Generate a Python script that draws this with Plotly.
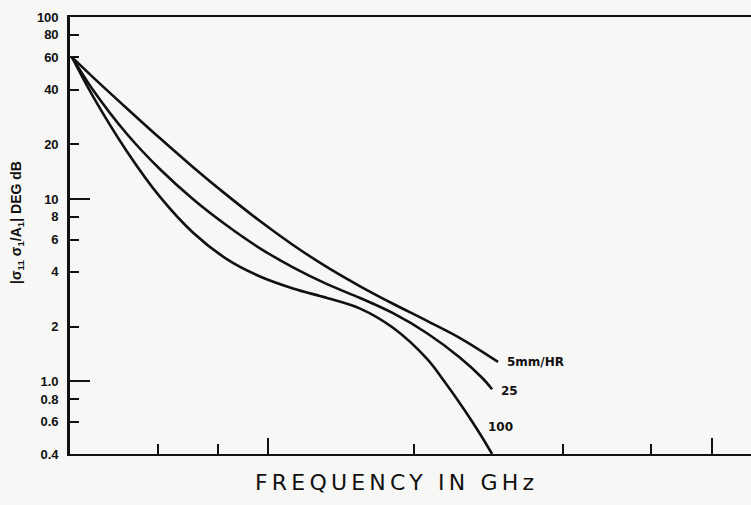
import math
import plotly.graph_objects as go

# Attenuation curves vs frequency for three rain rates
freq_5 = [3.62, 4.03, 4.81, 5.71, 6.78, 8.09, 9.59, 11.38, 13.58, 16.12, 19.12, 22.81, 27.07, 32.96]
att_5 = [60, 46.8, 31.5, 21.6, 15.0, 10.5, 7.59, 5.61, 4.24, 3.33, 2.67, 2.15, 1.73, 1.28]

freq_25 = [3.62, 4.03, 4.81, 5.71, 6.78, 8.09, 9.59, 11.38, 13.58, 16.12, 19.12, 22.81, 27.07, 30.5, 31.96]
att_25 = [60, 39.9, 22.8, 14.6, 10.0, 7.15, 5.38, 4.23, 3.42, 2.87, 2.37, 1.84, 1.35, 1.035, 0.907]

freq_100 = [3.62, 4.03, 4.81, 5.71, 6.78, 8.09, 9.59, 11.38, 13.58, 16.12, 19.12, 22.81, 25.03, 27.79, 30.03, 31.96]
att_100 = [60, 36.8, 18.3, 10.3, 6.55, 4.68, 3.77, 3.24, 2.87, 2.51, 1.97, 1.33, 0.99, 0.689, 0.515, 0.40]

curve_labels = ["5mm/HR", "25", "100"]

y_tickvals = [100, 80, 60, 40, 20, 10, 8, 6, 4, 2, 1.0, 0.8, 0.6, 0.4]
y_ticktext = ["100", "80", "60", "40", "20", "10", "8", "6", "4", "2", "1.0", "0.8", "0.6", "0.4"]
y_long_ticks = [10, 1.0]

x_short_ticks = [5.65, 7.72, 21.3, 46.2, 72.9]
x_tall_ticks = [10, 100]

x_range = [math.log10(3.58), math.log10(122.4)]
y_range = [math.log10(0.4), 2]

INK = "#111111"
PAPER = "#f7f7f5"
LABEL_FONT = "Liberation Sans Narrow, Liberation Sans, Arial"
CURVE_FONT = "DejaVu Sans, Liberation Sans, Arial"

fig = go.Figure()
series = [(freq_5, att_5), (freq_25, att_25), (freq_100, att_100)]
for fx, fy in series:
    fig.add_trace(go.Scatter(
        x=fx, y=fy, mode="lines",
        line=dict(color=INK, width=2.6, shape="spline", smoothing=1.0),
        showlegend=False, hoverinfo="skip", cliponaxis=False,
    ))

# curve labels placed just past each curve's end
label_shifts = [(7, 0), (7, -2), (-6, 27)]
for (fx, fy), text, (dx, dy) in zip(series, curve_labels, label_shifts):
    fig.add_annotation(
        x=math.log10(fx[-1]), y=math.log10(fy[-1]), xref="x", yref="y",
        text=text, showarrow=False, xanchor="left", yanchor="middle",
        xshift=dx, yshift=dy,
        font=dict(family=CURVE_FONT, size=12, color=INK, weight="bold"),
    )

fig.update_layout(
    width=751, height=505,
    margin=dict(l=70, r=0, t=17, b=51),
    paper_bgcolor=PAPER, plot_bgcolor=PAPER,
    xaxis=dict(
        type="log", range=x_range, showgrid=False, zeroline=False,
        showline=True, linecolor=INK, linewidth=2.4, mirror=True,
        ticks="inside", tickvals=x_tall_ticks, ticklen=16, tickwidth=2,
        tickcolor=INK, showticklabels=False,
    ),
    xaxis2=dict(
        type="log", range=x_range, overlaying="x", anchor="y", side="bottom",
        showgrid=False, zeroline=False, showline=False,
        ticks="inside", tickvals=x_short_ticks, ticklen=10, tickwidth=2,
        tickcolor=INK, showticklabels=False,
    ),
    yaxis=dict(
        type="log", range=y_range, showgrid=False, zeroline=False,
        showline=True, linecolor=INK, linewidth=2.6,
        ticks="inside", tickvals=y_tickvals, ticktext=y_ticktext,
        ticklen=9, tickwidth=1.6, tickcolor=INK, ticklabelstandoff=6,
        tickfont=dict(family=LABEL_FONT, size=13, color=INK, weight="bold"),
    ),
    yaxis2=dict(
        type="log", range=y_range, overlaying="y", anchor="x", side="left",
        showgrid=False, zeroline=False, showline=False,
        ticks="inside", tickvals=y_long_ticks, ticklen=20, tickwidth=2,
        tickcolor=INK, showticklabels=False,
    ),
)

# invisible trace so the overlay axes are drawn
fig.add_trace(go.Scatter(x=[10], y=[1], xaxis="x2", yaxis="y2", mode="markers",
                         marker=dict(opacity=0), showlegend=False, hoverinfo="skip"))

fig.add_annotation(
    text="|σ<sub>11</sub> σ<sub>1</sub>/A<sub>1</sub>| DEG dB",
    xref="paper", yref="paper", x=-0.077, y=0.53, textangle=-90,
    showarrow=False, xanchor="center", yanchor="middle",
    font=dict(family=LABEL_FONT, size=14, color=INK, weight="bold"),
)

fig.add_annotation(
    text='<span style="letter-spacing:4.2px">FREQUENCY IN GHz</span>',
    xref="paper", yref="paper", x=0.48, y=-0.065,
    showarrow=False, xanchor="center", yanchor="middle",
    font=dict(family="DejaVu Sans, Open Sans, sans-serif", size=22, color=INK),
)

fig.write_html("out.html")
